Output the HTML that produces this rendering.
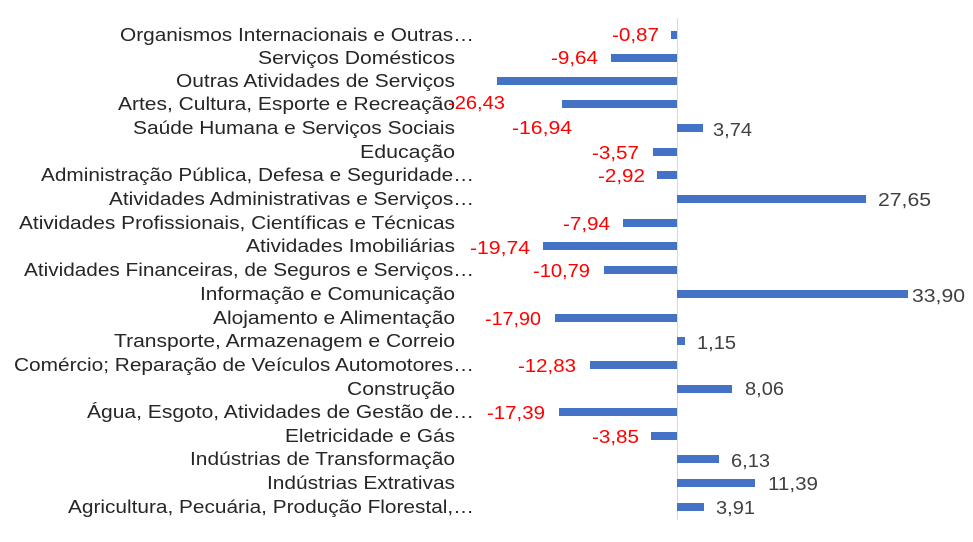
<!DOCTYPE html>
<html><head><meta charset="utf-8"><style>
html,body{margin:0;padding:0;background:#fff;}
svg{display:block;font-family:"Liberation Sans",Arial,sans-serif;}
</style></head><body>
<svg width="973" height="542" viewBox="0 0 973 542" xmlns="http://www.w3.org/2000/svg">
<rect width="973" height="542" fill="#fff"/>
<line x1="677.5" y1="18" x2="677.5" y2="520" stroke="#d9d9d9" stroke-width="1"/>
<g fill="#4472c4">
<rect x="671" y="31" width="6" height="8"/>
<rect x="611" y="54" width="66" height="8"/>
<rect x="497" y="77" width="180" height="8"/>
<rect x="562" y="100" width="115" height="8"/>
<rect x="677" y="124" width="26" height="8"/>
<rect x="653" y="148" width="24" height="8"/>
<rect x="657" y="171" width="20" height="8"/>
<rect x="677" y="195" width="189" height="8"/>
<rect x="623" y="219" width="54" height="8"/>
<rect x="543" y="242" width="134" height="8"/>
<rect x="604" y="266" width="73" height="8"/>
<rect x="677" y="290" width="231" height="8"/>
<rect x="555" y="314" width="122" height="8"/>
<rect x="677" y="337" width="8" height="8"/>
<rect x="590" y="361" width="87" height="8"/>
<rect x="677" y="385" width="55" height="8"/>
<rect x="559" y="408" width="118" height="8"/>
<rect x="651" y="432" width="26" height="8"/>
<rect x="677" y="455" width="42" height="8"/>
<rect x="677" y="479" width="78" height="8"/>
<rect x="677" y="503" width="27" height="8"/>
</g>
<g font-size="18" fill="#262626">
<text x="120" y="41" textLength="354" lengthAdjust="spacingAndGlyphs">Organismos Internacionais e Outras…</text>
<text x="258" y="64" textLength="197" lengthAdjust="spacingAndGlyphs">Serviços Domésticos</text>
<text x="176" y="87" textLength="279" lengthAdjust="spacingAndGlyphs">Outras Atividades de Serviços</text>
<text x="118" y="110" textLength="337" lengthAdjust="spacingAndGlyphs">Artes, Cultura, Esporte e Recreação</text>
<text x="133" y="134" textLength="322" lengthAdjust="spacingAndGlyphs">Saúde Humana e Serviços Sociais</text>
<text x="360" y="158" textLength="95" lengthAdjust="spacingAndGlyphs">Educação</text>
<text x="41" y="181" textLength="433" lengthAdjust="spacingAndGlyphs">Administração Pública, Defesa e Seguridade…</text>
<text x="109" y="205" textLength="365" lengthAdjust="spacingAndGlyphs">Atividades Administrativas e Serviços…</text>
<text x="19" y="229" textLength="436" lengthAdjust="spacingAndGlyphs">Atividades Profissionais, Científicas e Técnicas</text>
<text x="246" y="252" textLength="209" lengthAdjust="spacingAndGlyphs">Atividades Imobiliárias</text>
<text x="24" y="276" textLength="450" lengthAdjust="spacingAndGlyphs">Atividades Financeiras, de Seguros e Serviços…</text>
<text x="200" y="300" textLength="255" lengthAdjust="spacingAndGlyphs">Informação e Comunicação</text>
<text x="213" y="324" textLength="242" lengthAdjust="spacingAndGlyphs">Alojamento e Alimentação</text>
<text x="114" y="347" textLength="341" lengthAdjust="spacingAndGlyphs">Transporte, Armazenagem e Correio</text>
<text x="14" y="371" textLength="460" lengthAdjust="spacingAndGlyphs">Comércio; Reparação de Veículos Automotores…</text>
<text x="347" y="395" textLength="108" lengthAdjust="spacingAndGlyphs">Construção</text>
<text x="87" y="418" textLength="387" lengthAdjust="spacingAndGlyphs">Água, Esgoto, Atividades de Gestão de…</text>
<text x="285" y="442" textLength="170" lengthAdjust="spacingAndGlyphs">Eletricidade e Gás</text>
<text x="190" y="465" textLength="265" lengthAdjust="spacingAndGlyphs">Indústrias de Transformação</text>
<text x="267" y="489" textLength="188" lengthAdjust="spacingAndGlyphs">Indústrias Extrativas</text>
<text x="68" y="513" textLength="406" lengthAdjust="spacingAndGlyphs">Agricultura, Pecuária, Produção Florestal,…</text>
</g>
<g font-size="18" fill="#ff0000">
<text x="612" y="41" textLength="47" lengthAdjust="spacingAndGlyphs">-0,87</text>
<text x="551" y="64" textLength="47" lengthAdjust="spacingAndGlyphs">-9,64</text>
<text x="448" y="109" textLength="57" lengthAdjust="spacingAndGlyphs">-26,43</text>
<text x="512" y="134" textLength="60" lengthAdjust="spacingAndGlyphs">-16,94</text>
<text x="592" y="159" textLength="47" lengthAdjust="spacingAndGlyphs">-3,57</text>
<text x="598" y="182" textLength="47" lengthAdjust="spacingAndGlyphs">-2,92</text>
<text x="563" y="230" textLength="47" lengthAdjust="spacingAndGlyphs">-7,94</text>
<text x="470" y="254" textLength="60" lengthAdjust="spacingAndGlyphs">-19,74</text>
<text x="533" y="277" textLength="57" lengthAdjust="spacingAndGlyphs">-10,79</text>
<text x="485" y="325" textLength="56" lengthAdjust="spacingAndGlyphs">-17,90</text>
<text x="518" y="372" textLength="58" lengthAdjust="spacingAndGlyphs">-12,83</text>
<text x="487" y="419" textLength="58" lengthAdjust="spacingAndGlyphs">-17,39</text>
<text x="592" y="443" textLength="47" lengthAdjust="spacingAndGlyphs">-3,85</text>
</g>
<g font-size="18" fill="#404040">
<text x="713" y="136" textLength="39" lengthAdjust="spacingAndGlyphs">3,74</text>
<text x="878" y="206" textLength="53" lengthAdjust="spacingAndGlyphs">27,65</text>
<text x="912" y="302" textLength="53" lengthAdjust="spacingAndGlyphs">33,90</text>
<text x="697" y="349" textLength="39" lengthAdjust="spacingAndGlyphs">1,15</text>
<text x="745" y="395" textLength="39" lengthAdjust="spacingAndGlyphs">8,06</text>
<text x="731" y="467" textLength="39" lengthAdjust="spacingAndGlyphs">6,13</text>
<text x="768" y="490" textLength="50" lengthAdjust="spacingAndGlyphs">11,39</text>
<text x="716" y="514" textLength="39" lengthAdjust="spacingAndGlyphs">3,91</text>
</g>
</svg>
</body></html>
